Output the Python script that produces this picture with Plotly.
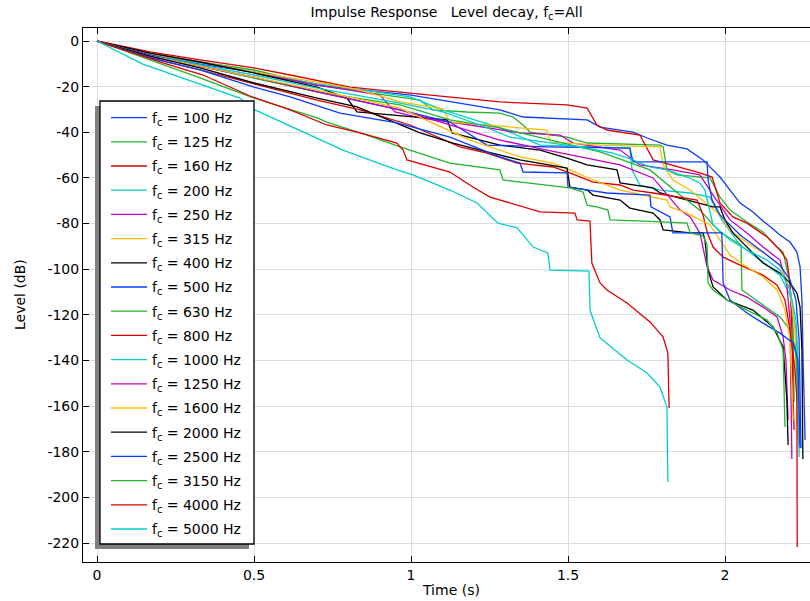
import plotly.graph_objects as go

# ---------------- data (time in s, level in dB) ----------------
labels = ["100", "125", "160", "200", "250", "315", "400", "500", "630",
          "800", "1000", "1250", "1600", "2000", "2500", "3150", "4000", "5000"]
colors = ["#0a3cff", "#1fb52e", "#dd0000", "#00cdd0", "#c400c4", "#ffbb00", "#000000",
          "#0a3cff", "#1fb52e", "#dd0000", "#00cdd0", "#c400c4", "#ffbb00", "#000000",
          "#0a3cff", "#1fb52e", "#dd0000", "#00cdd0"]

t100 = [0, 0.169, 0.328, 0.500, 0.701, 1.000, 1.283, 1.357, 1.561, 1.602, 1.707, 1.752, 1.815, 1.879, 1.930,
        1.984, 2.016, 2.048, 2.089, 2.121, 2.153, 2.175, 2.207, 2.229, 2.239, 2.245, 2.248, 2.252, 2.255]
L100 = [0, -6.1, -10.1, -13.6, -19.3, -23.7, -30.2, -33.3, -34.6, -37.7, -39.9, -42.5, -45.6, -47.3, -52.1,
        -59.6, -65.3, -71.0, -74.9, -78.9, -82.4, -85.0, -88.1, -92.5, -99.0, -113.5, -135.4, -166.1, -174.8]

t125 = [0, 0.169, 0.328, 0.5, 0.701, 0.806, 0.965, 1.029, 1.070, 1.178, 1.283, 1.325, 1.357, 1.379, 1.497,
        1.561, 1.793, 1.803, 1.815, 1.847, 1.952, 1.984, 2.016, 2.070, 2.121, 2.166, 2.185, 2.207, 2.217, 2.220]
L125 = [0, -5.3, -9.2, -12.7, -19.3, -21.5, -24.5, -25.9, -30.2, -31.1, -31.6, -33.3, -36.8, -39.9, -42.1,
        -44.7, -45.6, -46.4, -56.5, -58.7, -60.0, -68.4, -74.1, -79.3, -83.7, -90.3, -92.5, -106.0, -126.6, -158.2]

t160 = [0, 0.169, 0.328, 0.5, 0.615, 0.806, 0.997, 1.283, 1.497, 1.561, 1.592, 1.624, 1.729, 1.755, 1.771,
        1.920, 1.959, 1.984, 2.025, 2.070, 2.134, 2.175, 2.197, 2.207, 2.213, 2.217, 2.220]
L160 = [0, -4.8, -8.3, -11.8, -14.9, -20.2, -22.8, -26.7, -28.0, -29.4, -36.8, -39.0, -41.2, -47.8, -52.1,
        -57.8, -59.6, -71.0, -77.1, -79.8, -85.9, -91.6, -96.0, -106.0, -126.6, -157.3, -170.5]

t200 = [0, 0.169, 0.328, 0.5, 0.701, 0.806, 0.997, 1.102, 1.283, 1.411, 1.697, 1.704, 1.729, 1.793, 1.889,
        1.952, 1.990, 2.048, 2.121, 2.175, 2.207, 2.226, 2.232, 2.236]
L200 = [0, -6.1, -9.6, -13.6, -18.8, -20.6, -24.5, -30.2, -38.1, -45.6, -46.9, -56.5, -63.1, -65.3, -66.6,
        -68.4, -78.4, -89.4, -96.9, -102.6, -111.3, -126.6, -144.2, -166.1]

t250 = [0, 0.169, 0.328, 0.5, 0.701, 0.806, 0.901, 0.949, 1.029, 1.188, 1.347, 1.475, 1.516, 1.666, 1.707,
        1.729, 1.834, 1.920, 1.962, 2.016, 2.070, 2.121, 2.175, 2.197, 2.207, 2.213]
L250 = [0, -5.7, -9.2, -14.0, -19.3, -21.5, -23.7, -31.1, -33.7, -36.8, -40.3, -41.2, -44.7, -47.8, -52.1,
        -54.3, -56.5, -58.7, -67.5, -78.4, -84.1, -90.3, -96.0, -106.9, -122.3, -183.2]

t315 = [0, 0.169, 0.328, 0.5, 0.701, 0.838, 0.965, 1.102, 1.124, 1.283, 1.433, 1.443, 1.602, 1.793, 1.803,
        1.834, 1.889, 1.984, 2.016, 2.080, 2.134, 2.175, 2.207, 2.223, 2.232]
L315 = [0, -5.7, -9.2, -13.6, -18.0, -21.5, -26.7, -29.8, -35.5, -37.3, -39.0, -44.3, -45.6, -46.4, -54.3,
        -60.9, -65.3, -76.2, -82.8, -89.4, -93.8, -98.2, -109.1, -126.6, -174.8]

t400 = [0, 0.169, 0.328, 0.5, 0.701, 0.796, 0.828, 1.029, 1.115, 1.131, 1.283, 1.411, 1.497, 1.561, 1.656,
        1.666, 1.771, 1.793, 1.962, 1.984, 2.000, 2.025, 2.080, 2.121, 2.175, 2.207, 2.229, 2.239, 2.245, 2.248]
L400 = [0, -5.3, -9.2, -14.0, -20.2, -25.0, -31.1, -33.7, -34.6, -40.3, -45.6, -47.8, -51.3, -54.3, -56.5,
        -62.2, -64.4, -66.6, -72.7, -72.7, -78.4, -84.1, -91.6, -97.3, -101.7, -106.0, -110.4, -116.6, -135.4, -183.2]

t500 = [0, 0.169, 0.328, 0.5, 0.701, 0.965, 1.124, 1.242, 1.433, 1.697, 1.707, 1.943, 1.946, 1.959, 1.984,
        2.048, 2.121, 2.175, 2.207, 2.226, 2.236, 2.239, 2.242]
L500 = [0, -6.1, -11.0, -16.2, -22.3, -30.2, -35.5, -45.6, -46.4, -46.9, -53.0, -53.0, -60.9, -69.7, -76.2,
        -85.0, -92.5, -98.2, -104.7, -113.5, -131.0, -157.3, -178.4]

t630 = [0, 0.169, 0.328, 0.5, 0.701, 0.965, 1.124, 1.283, 1.443, 1.602, 1.761, 1.857, 1.920, 1.984, 2.051,
        2.054, 2.121, 2.175, 2.207, 2.226, 2.232, 2.236]
L630 = [0, -6.6, -11.0, -16.2, -22.3, -28.0, -34.6, -38.1, -43.4, -48.6, -56.5, -67.5, -74.1, -83.7, -89.4,
        -109.1, -115.7, -120.9, -126.6, -135.4, -157.3, -177.0]

t800 = [0, 0.169, 0.328, 0.5, 0.701, 0.838, 0.997, 1.156, 1.242, 1.338, 1.452, 1.506, 1.580, 1.666, 1.707,
        1.771, 1.911, 1.930, 1.943, 1.962, 1.994, 2.048, 2.121, 2.166, 2.191, 2.207, 2.223, 2.229, 2.230]
L800 = [0, -7.4, -12.7, -18.8, -25.9, -30.2, -36.8, -46.4, -49.1, -53.5, -55.2, -57.8, -61.8, -63.1, -65.3,
        -66.6, -69.7, -76.2, -83.7, -90.3, -94.7, -98.2, -102.6, -107.0, -113.5, -126.6, -144.2, -157.3, -221.7]

t1000 = [0, 0.169, 0.328, 0.5, 0.701, 0.965, 1.102, 1.220, 1.315, 1.497, 1.561, 1.643, 1.707, 1.761, 1.815,
         1.879, 1.920, 1.936, 1.962, 2.016, 2.070, 2.134, 2.175, 2.207, 2.226, 2.232, 2.236]
L1000 = [0, -6.6, -10.5, -14.9, -20.6, -27.2, -31.1, -36.8, -42.1, -45.6, -46.9, -49.1, -52.1, -55.2, -56.5,
         -59.6, -62.2, -65.3, -80.6, -87.2, -91.6, -96.0, -100.4, -109.1, -122.3, -139.8, -182.3]

t1250 = [0, 0.169, 0.328, 0.5, 0.701, 0.965, 1.124, 1.283, 1.433, 1.561, 1.666, 1.771, 1.857, 1.889, 1.920,
         1.943, 1.962, 2.016, 2.070, 2.121, 2.166, 2.185, 2.194, 2.201]
L1250 = [0, -7.0, -11.0, -15.8, -22.3, -30.2, -36.8, -43.4, -47.8, -51.3, -54.3, -60.0, -74.1, -77.1, -84.1,
         -99.0, -104.7, -109.1, -112.2, -116.6, -120.9, -129.7, -139.8, -166.1]

t1600 = [0, 0.169, 0.328, 0.5, 0.701, 0.965, 1.188, 1.347, 1.452, 1.506, 1.580, 1.666, 1.771, 1.815, 1.825,
         1.879, 1.952, 1.984, 2.016, 2.070, 2.121, 2.166, 2.191, 2.207, 2.217]
L1600 = [0, -6.6, -11.0, -15.8, -21.5, -29.4, -43.4, -50.8, -53.5, -56.5, -60.9, -65.3, -68.4, -69.7, -72.7,
         -75.4, -80.6, -87.2, -93.8, -99.0, -103.4, -109.1, -117.9, -131.0, -166.1]

t2000 = [0, 0.169, 0.328, 0.5, 0.701, 0.828, 1.029, 1.134, 1.242, 1.347, 1.497, 1.506, 1.561, 1.580, 1.666,
         1.697, 1.771, 1.793, 1.803, 1.889, 1.930, 1.936, 1.946, 1.962, 2.006, 2.089, 2.153, 2.185, 2.197, 2.201]
L2000 = [0, -6.6, -11.8, -18.4, -25.0, -28.9, -40.3, -44.7, -48.6, -52.1, -55.7, -64.0, -65.3, -67.5, -69.7,
         -73.2, -75.4, -78.4, -82.8, -84.1, -84.1, -87.2, -100.4, -107.8, -113.5, -117.9, -125.3, -134.1, -157.3, -177.0]

t2500 = [0, 0.169, 0.328, 0.5, 0.615, 0.774, 0.955, 1.124, 1.283, 1.347, 1.357, 1.497, 1.500, 1.624, 1.761,
         1.764, 1.825, 1.834, 1.990, 1.994, 2.016, 2.070, 2.121, 2.175, 2.217, 2.232, 2.239]
L2500 = [0, -7.4, -12.7, -20.2, -24.5, -31.6, -35.9, -42.1, -50.8, -53.5, -57.4, -57.8, -64.0, -66.6, -67.5,
         -72.7, -77.1, -84.1, -84.1, -106.0, -113.5, -119.2, -123.6, -128.0, -132.3, -139.8, -178.4]

t3150 = [0, 0.169, 0.328, 0.5, 0.701, 0.732, 0.860, 0.965, 0.997, 1.124, 1.283, 1.293, 1.506, 1.548, 1.561,
         1.592, 1.627, 1.634, 1.803, 1.879, 1.889, 1.930, 1.943, 1.946, 1.962, 2.006, 2.070, 2.134, 2.166, 2.185, 2.191]
L3150 = [0, -8.3, -16.2, -25.0, -33.7, -35.5, -41.2, -46.4, -47.8, -53.5, -56.5, -60.9, -64.4, -66.2, -71.9,
         -72.7, -74.1, -78.4, -79.3, -79.8, -84.1, -85.4, -89.4, -106.0, -109.1, -113.5, -117.9, -122.3, -128.0, -135.4, -169.1]

t4000 = [0, 0.210, 0.338, 0.487, 0.615, 0.732, 0.838, 0.955, 0.975, 0.987, 1.124, 1.197, 1.252, 1.357, 1.411,
         1.522, 1.529, 1.570, 1.576, 1.602, 1.624, 1.688, 1.761, 1.803, 1.818, 1.822]
L4000 = [0, -9.6, -14.9, -24.1, -30.2, -36.8, -40.3, -44.7, -47.8, -52.1, -57.4, -64.0, -68.4, -72.7, -74.9,
         -75.4, -78.4, -78.9, -97.3, -106.0, -109.1, -114.8, -123.1, -129.7, -136.7, -160.8]

t5000 = [0, 0.146, 0.455, 0.503, 0.783, 0.955, 1.006, 1.124, 1.210, 1.277, 1.338, 1.389, 1.436, 1.443, 1.567,
         1.570, 1.602, 1.688, 1.752, 1.793, 1.815, 1.818]
L5000 = [0, -10.1, -25.0, -30.2, -47.8, -56.5, -58.7, -65.3, -71.0, -79.8, -81.9, -90.3, -92.9, -100.4, -100.8,
         -117.9, -130.1, -139.8, -145.5, -151.6, -160.4, -193.2]

series_t = [t100, t125, t160, t200, t250, t315, t400, t500, t630,
            t800, t1000, t1250, t1600, t2000, t2500, t3150, t4000, t5000]
series_L = [L100, L125, L160, L200, L250, L315, L400, L500, L630,
            L800, L1000, L1250, L1600, L2000, L2500, L3150, L4000, L5000]

x_ticks = [0, 0.5, 1, 1.5, 2]
x_ticktext = ["0", "0.5", "1", "1.5", "2"]
y_ticks = [0, -20, -40, -60, -80, -100, -120, -140, -160, -180, -200, -220]
y_ticktext = ["0", "-20", "-40", "-60", "-80", "-100", "-120", "-140", "-160", "-180", "-200", "-220"]

# ---------------- figure ----------------
FONT = "DejaVu Sans"
W, H = 810, 601
ML, MR, MT, MB = 83, 0, 28, 39
PW, PH = W - ML - MR, H - MT - MB


def px_x(p):
    return (p - ML) / PW


def px_y(p):
    return (H - MB - p) / PH


fig = go.Figure()
for i, lab in enumerate(labels):
    fig.add_trace(go.Scatter(
        x=series_t[i], y=series_L[i], mode="lines",
        name="f<sub>c</sub> = " + lab + " Hz",
        legendgroup="g" + str(i),
        line=dict(color=colors[i], width=1.3),
    ))

axis_common = dict(
    showgrid=True, gridcolor="#dcdcdc", gridwidth=1, zeroline=False,
    showline=True, linecolor="black", linewidth=1,
    ticks="inside", ticklen=6, tickcolor="black",
    tickfont=dict(family=FONT, size=14, color="black"),
)

fig.update_layout(
    width=W, height=H,
    margin=dict(l=ML, r=MR, t=MT, b=MB, pad=0),
    paper_bgcolor="white", plot_bgcolor="white",
    font=dict(family=FONT, size=14, color="black"),
    title=dict(text="Impulse Response\u00a0\u00a0\u00a0Level decay, f<sub>c</sub>=All",
               x=0.5, xref="paper", y=1 - 12 / H, yref="container", yanchor="middle",
               font=dict(family=FONT, size=14, color="black")),
    xaxis=dict(range=[-0.0446, 2.2707], tickvals=x_ticks, ticktext=x_ticktext,
               mirror="ticks", **axis_common),
    yaxis=dict(range=[-228.3, 5.7], tickvals=y_ticks, ticktext=y_ticktext,
               mirror=False, **axis_common),
    showlegend=True,
    legend=dict(x=px_x(106), y=px_y(102), xanchor="left", yanchor="top",
                bgcolor="rgba(0,0,0,0)", borderwidth=0,
                font=dict(family=FONT, size=14, color="black"),
                tracegroupgap=3, itemwidth=36),
    shapes=[
        dict(type="rect", xref="paper", yref="paper",
             x0=px_x(95), x1=px_x(249), y0=px_y(549), y1=px_y(106),
             fillcolor="#808080", line=dict(width=0), layer="above"),
        dict(type="rect", xref="paper", yref="paper",
             x0=px_x(100), x1=px_x(254), y0=px_y(544), y1=px_y(101),
             fillcolor="white", line=dict(color="black", width=1.3), layer="above"),
    ],
    annotations=[
        dict(text="Time (s)", xref="paper", yref="paper", x=px_x(451), y=px_y(590),
             showarrow=False, xanchor="center", yanchor="middle",
             font=dict(family=FONT, size=14, color="black")),
        dict(text="Level (dB)", xref="paper", yref="paper", x=px_x(20), y=px_y(295),
             showarrow=False, textangle=-90, xanchor="center", yanchor="middle",
             font=dict(family=FONT, size=14, color="black")),
    ],
)

fig.write_html("out.html", config={"displayModeBar": False},
               post_script="document.body.style.margin='0';")
